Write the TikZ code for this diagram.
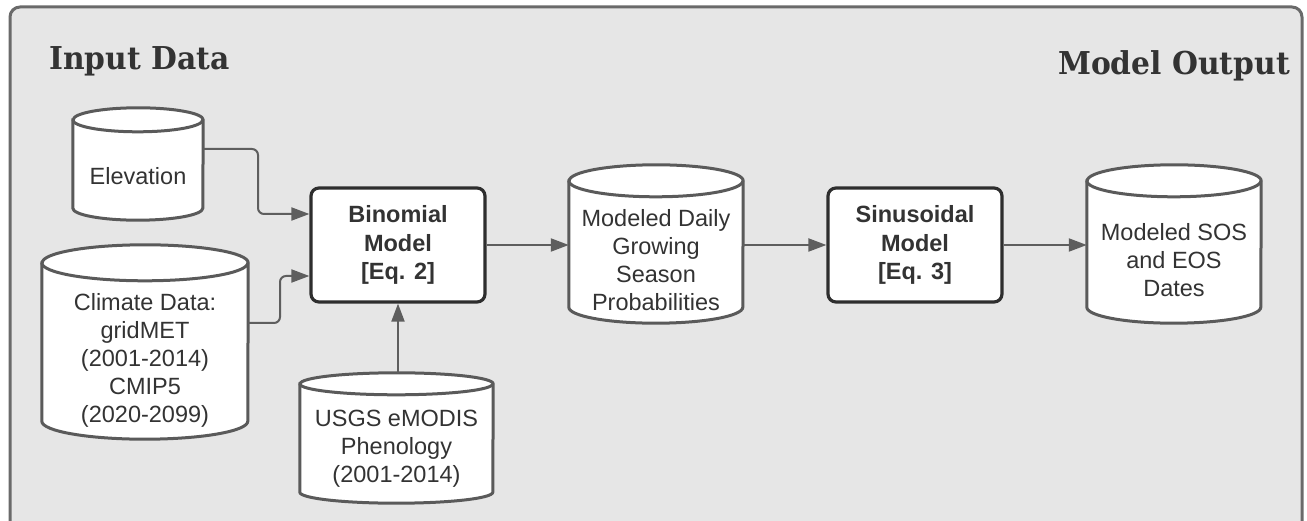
\documentclass[tikz,border=0pt]{standalone}
\usepackage{fontspec}
\setmainfont{Liberation Sans}
\newfontfamily\headfont[FakeStretch=0.945]{DejaVu Serif}
\usetikzlibrary{arrows.meta,backgrounds}

\definecolor{panelfill}{HTML}{E6E6E6}
\definecolor{panelline}{HTML}{6A6A6A}
\definecolor{cylline}{HTML}{5A5A5A}
\definecolor{boxline}{HTML}{2E2E2E}
\definecolor{arrline}{HTML}{5E5E5E}
\definecolor{inktext}{HTML}{333333}

\tikzset{
  x=1pt, y=1pt,
  body/.style={font=\fontsize{23.5}{28}\selectfont, text=inktext, align=center, inner sep=0pt},
  dbtext/.style={body},
  modelbox/.style={body, font=\fontsize{23.5}{28.5}\selectfont\bfseries, draw=boxline,
    line width=3.2pt, fill=white, rounded corners=8pt, minimum width=174pt, minimum height=114pt},
  cylstroke/.style={draw=cylline, line width=3pt, fill=white},
  flow/.style={draw=arrline, line width=2pt, -{Triangle[length=18pt,width=13pt]}},
  heading/.style={font=\headfont\bfseries\fontsize{31.5}{36}\selectfont, text=inktext, inner sep=0pt},
}

% cylinder outline around a text node: #1 node name, #2 half width, #3 cap radius
\newcommand\drawdb[3]{%
  \begin{pgfonlayer}{background}
    \draw[cylstroke] ([yshift=#3]#1.north west) -- ([yshift=#3]#1.south west)
      arc[start angle=180, end angle=360, x radius=#2, y radius=#3]
      -- ([yshift=#3]#1.north east)
      arc[start angle=0, end angle=180, x radius=#2, y radius=#3] -- cycle;
    \draw[cylstroke, fill=none] ([yshift=#3]#1.north west)
      arc[start angle=180, end angle=360, x radius=#2, y radius=#3];
  \end{pgfonlayer}}

\begin{document}
\begin{tikzpicture}
\useasboundingbox (0,0) rectangle (1307,-521);

% panel
\begin{pgfonlayer}{background}
  \fill[panelfill, draw=panelline, line width=3pt, rounded corners=10pt] (10,-7) rectangle (1302,-545);
\end{pgfonlayer}

\node[heading, anchor=base west] (hin) at (49,-70) {Input Data};
\node[heading, anchor=base east] (hout) at (1290,-75) {Model Output};

% data stores
\node[dbtext, minimum width=130pt, minimum height=88pt] (elev) at (138,-176) {Elevation};
\node[dbtext, minimum width=206pt, minimum height=158pt] (clim) at (145,-360)
  {Climate Data:\\gridMET\\(2001-2014)\\CMIP5\\(2020-2099)};
\node[dbtext, minimum width=193pt, minimum height=108pt] (usgs) at (396.5,-449)
  {USGS eMODIS\\Phenology\\(2001-2014)};
\node[dbtext, minimum width=174pt, minimum height=126pt] (prob) at (656,-260)
  {Modeled Daily\\Growing\\Season\\Probabilities};
\node[dbtext, minimum width=174pt, minimum height=126pt] (dates) at (1174,-260)
  {Modeled SOS\\and EOS\\Dates};

\drawdb{elev}{65pt}{12pt}
\drawdb{clim}{103pt}{18pt}
\drawdb{usgs}{96.5pt}{11pt}
\drawdb{prob}{87pt}{16pt}
\drawdb{dates}{87pt}{16pt}

% models
\node[modelbox] (bin) at (398,-245) {Binomial\\Model\\{[Eq. 2]}};
\node[modelbox] (sin) at (915,-245) {Sinusoidal\\Model\\{[Eq. 3]}};

% connectors
\coordinate (usgstop) at ([yshift=22pt]usgs.north);
\draw[flow, rounded corners=6pt] ([yshift=27pt]elev.east) -- (258,-149) -- (258,-214) -- ([yshift=31pt]bin.west);
\draw[flow, rounded corners=6pt] ([yshift=37pt]clim.east) -- (280,-323) -- (280,-276) -- ([yshift=-31pt]bin.west);
\draw[flow] (bin.south |- usgstop) -- (bin.south);
\draw[flow] (bin.east) -- (bin.east -| prob.west);
\draw[flow] (sin.west -| prob.east) -- (sin.west);
\draw[flow] (sin.east) -- (sin.east -| dates.west);
\end{tikzpicture}
\end{document}
